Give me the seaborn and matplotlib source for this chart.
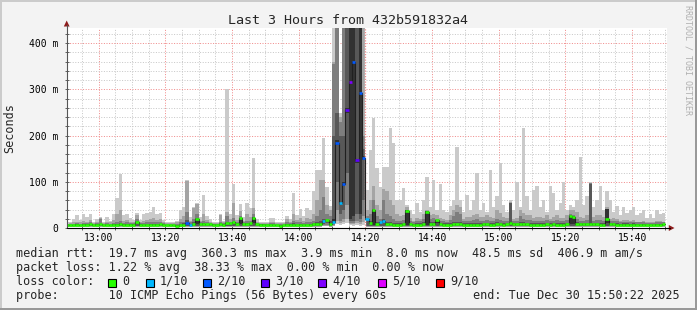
import numpy as np
import pandas as pd
import matplotlib
matplotlib.use("Agg")
import matplotlib.pyplot as plt
import seaborn as sns
from matplotlib.patches import Rectangle, Polygon
from matplotlib.lines import Line2D

# ---------------------------------------------------------------- data
first_step = "12:50"      # start of the first 60 s step
view_start = "12:50:22"
view_end = "15:50:22"


def _a(s):
    return np.array(s.split(), dtype=float)


# sorted ping round-trip times per step (ms): ping1 = fastest ... ping10 = slowest
ping1 = _a("""
3 3 3 3 3 3 3 3 3 3  3 3 3 3 3 3 3 3 3 3  3 3 3 3 3 3 3 3 3 3  3 3 3 3 3 3 3 3 3 3
3 3 3 3 3 3 3 3 3 3  3 3 3 3 3 3 3 3 3 3  3 3 3 3 3 3 3 3 3 3  3 3 3 3 3 3 3 4 4 3
4 8 6 8 10 6 5 6 5 6  3 3 3 3 3 3 3 3 3 3  3 3 3 3 3 3 3 3 3 3  3 3 3 3 3 3 3 3 3 3
3 3 3 3 3 3 3 3 3 3  3 3 3 3 3 3 3 3 3 3  3 3 3 3 3 3 3 3 3 3  3 3 3 3 3 3 3 3 3 3
3 3 3 3 3 3 3 3 3 3  3 3 3 3 3 3 3 3 3 3""")
ping2 = _a("""
3 3 3 3 3 3 3 3 3 3  3 3 3 3 3 3 3 3 3 3  3 3 3 3 3 3 3 3 3 3  3 3 3 3 3 3 3 3 3 3
3 3 3 3 3 3 3 3 3 3  3 3 3 3 3 3 3 3 3 3  3 3 3 3 3 3 3 3 3 3  3 3 3 3 3 3 3 5 5 3
5 15 10 12 20 8 8 10 8 12  3 3 3 3 3 3 3 3 3 3  3 3 3 3 3 3 3 3 3 3  3 3 3 3 3 3 3 3 3 3
3 3 3 3 3 3 3 3 3 3  3 3 3 3 3 3 3 3 3 3  3 3 3 3 3 3 3 3 3 3  3 3 3 3 3 3 3 3 3 3
3 3 3 3 3 3 3 3 3 3  3 3 3 3 3 3 3 3 3 3""")
ping3 = _a("""
4 4 4 4 4 4 4 4 4 4  4 4 4 4 4 4 4 4 4 4  4 4 4 4 4 4 4 4 4 4  4 4 4 4 4 4 4 4 4 4
4 4 4 4 4 4 4 4 4 4  4 4 4 4 4 4 4 4 4 4  4 4 4 4 4 4 4 4 4 4  4 4 4 4 4 4 4 6 7 4
6 40 15 20 50 10 10 15 12 25  4 4 4 4 4 4 4 4 4 4  4 4 4 4 4 4 4 4 4 4  4 4 4 4 4 4 4 4 4 4
4 4 4 4 4 4 4 4 4 4  4 4 4 4 4 4 4 4 4 4  4 4 4 4 4 4 4 4 4 4  4 4 4 4 4 4 4 4 4 4
4 4 4 4 4 4 4 4 4 4  4 4 4 4 4 4 4 4 4 4""")
ping4 = _a("""
4 4 4 4 4 4 4 4 4 4  4 4 4 4 4 4 4 4 4 4  4 4 4 4 4 4 4 4 4 4  4 4 4 4 4 4 4 4 4 4
4 4 4 4 4 4 4 4 4 4  4 4 4 4 4 4 4 4 4 4  4 4 4 4 4 4 4 4 4 4  4 4 4 4 4 4 4 8 10 4
8 100 30 40 120 15 15 30 20 60  4 4 4 4 4 4 4 4 4 4  4 4 4 4 4 4 4 4 4 4  4 4 4 4 4 4 4 4 4 4
4 4 4 4 4 4 4 4 4 4  4 4 4 4 4 4 4 4 4 4  4 4 4 4 4 4 4 4 4 4  4 4 4 4 4 4 4 4 4 4
4 4 4 4 4 4 4 4 4 4  4 4 4 4 4 4 4 4 4 4""")
ping5 = _a("""
5 5 5 6 5 6 6 7 5 6  7 5 5 5 6 6 7 6 6 6  6 12 6 5 5 6 6 6 7 6  5 5 5 4 5 6 9 5 7 8
7 8 7 7 6 5 7 6 9 9  11 8 9 7 8 9 10 7 6 6  5 5 5 5 4 5 6 6 6 5  6 5 5 6 7 8 8 14 16 8
10 180 50 90 250 20 25 140 30 148  18 9 6 8 12 15 8 7 6 6  6 7 6 7 6 6 6 7 7 7  7 10 7 6 6 6 7 7 7 6
6 6 6 6 6 7 7 6 6 7  7 6 7 9 8 7 7 7 7 6  6 6 6 6 7 6 7 6 6 6  7 8 9 8 7 7 7 8 7 7
6 6 10 7 7 6 6 6 6 6  6 6 5 6 5 5 5 6 6 7""")
ping6 = _a("""
7 7 7 8 7 8 8 9 7 8  9 7 7 7 8 8 9 8 8 8  8 14 8 7 7 8 8 8 9 8  7 7 7 6 7 8 11 7 9 20
9 10 9 9 8 7 9 8 11 11  13 10 22 9 10 11 23 9 8 8  7 7 7 7 6 7 8 8 8 7  8 7 7 8 9 10 10 16 18 10
20 190 56 100 260 600 650 150 600 155  20 11 40 10 14 17 10 9 8 8  8 9 38 9 8 8 8 9 36 9  9 18 9 8 8 8 9 9 9 8
8 8 8 8 8 9 9 8 8 9  9 8 9 12 10 9 9 9 9 8  8 8 8 8 9 8 9 8 8 8  9 27 25 10 9 9 9 10 9 9
8 8 41 9 9 8 8 8 8 8  8 8 7 8 7 7 7 8 8 9""")
ping7 = _a("""
7 7 7 8 7 8 8 9 7 8  9 7 8 7 8 9 10 8 8 8  8 15 8 8 8 9 9 8 9 8  7 7 7 7 9 10 18 9 12 22
9 11 9 9 8 8 10 8 14 11  14 10 22 9 11 11 24 9 8 8  8 8 8 7 7 7 9 8 10 9  9 8 9 9 10 12 16 20 20 15
200 250 200 200 500 700 700 500 700 170  20 15 42 12 14 20 14 12 11 10  10 11 38 10 9 10 10 12 36 12
12 18 10 10 10 11 12 14 12 10  10 10 11 11 10 10 11 10 10 12  11 10 10 54 10 10 12 12 11 11
10 10 10 10 11 10 10 11 10 10  11 28 26 12 10 10 11 96 10 11  11 10 41 10 10 10 9 10 10 9
10 9 9 9 8 8 8 9 9 9""")
ping8 = _a("""
8 8 9 10 9 10 10 12 8 10  20 9 10 9 11 14 16 11 12 10  10 20 10 11 12 12 13 12 12 10
9 8 9 9 12 14 35 12 20 30  12 16 12 11 9 9 14 10 25 14  22 13 25 12 16 15 30 11 9 9
9 10 10 9 8 9 12 10 15 12  13 11 13 12 16 25 40 67 30 25  355 600 230 500 700 800 800 700 800 200
25 30 60 25 20 60 30 25 20 15  16 18 40 16 12 16 15 20 37 20  22 20 16 15 14 18 25 35 30 15
16 16 18 20 16 16 18 16 16 20  18 16 16 55 15 16 25 20 18 18  16 16 16 16 18 15 16 18 16 16
18 30 28 20 16 16 18 97 16 18  18 16 42 15 16 15 12 14 14 13  14 12 12 13 11 11 11 13 13 12""")
ping9 = _a("""
9 10 12 14 12 16 14 18 10 14  21 11 14 12 18 30 40 16 18 14  13 28 14 16 18 20 22 18 20 13
11 10 11 12 20 25 101 16 44 52  16 30 18 14 11 11 28 12 35 20  54 18 37 16 30 24 44 14 11 10
10 14 14 11 10 11 20 14 30 18  22 16 22 20 30 60 104 104 50 40  360 650 240 700 800 850 850 800 850 450
40 60 90 50 40 85 80 60 50 30  25 28 45 22 16 22 20 30 40 28  30 28 22 20 18 28 40 50 45 20
24 24 28 30 24 24 28 24 22 40  32 24 22 56 20 22 40 32 28 28  22 24 24 22 28 20 24 28 22 22
28 40 40 35 24 22 28 98 24 28  28 24 45 20 22 20 16 18 18 16  18 14 14 16 13 13 13 16 16 14""")
ping10 = _a("""
12 14 20 28 18 30 24 31 12 20  24 14 24 16 30 65 117 28 30 22  17 32 18 30 32 35 46 31 33 17
14 12 14 16 38 45 103 23 46 54  23 71 27 19 14 14 30 15 302 30  95 28 52 23 54 44 151 19 14 12
12 21 21 14 12 14 26 20 75 29  41 25 43 40 80 125 125 195 89 48  600 700 250 800 900 900 900 900 900 900
82 168 238 130 88 132 132 216 184 60  60 86 50 40 30 54 35 60 110 45  104 40 95 40 35 47 60 175 60 35
71 40 60 120 40 55 35 125 45 70  140 50 35 60 40 100 45 216 70 40  82 90 45 60 35 90 75 40 55 100
40 50 45 60 153 50 70 100 45 60  90 40 80 60 35 47 28 45 32 40  45 28 32 39 22 30 22 39 30 32""")
median_rtt = _a("""
6 6 6 7 6 7 7 8 6 7  8 6 6 6 7 7 8 7 7 7  7 13 7 6 6 7 7 7 8 7  6 6 6 5 6 7 10 6 8 19
8 9 8 8 7 6 8 7 10 10  12 9 21 8 9 10 22 8 7 7  6 6 6 6 5 6 7 7 7 6  7 6 6 7 8 9 9 15 17 9
13 184 54 95 255 316 359 147 292 151  19 10 39 9 13 16 9 8 7 7  7 8 37 8 7 7 7 8 35 8
8 17 8 7 7 7 8 8 8 7  7 7 7 7 7 8 8 7 7 8  8 7 8 10 9 8 8 8 8 7  7 7 7 7 8 7 8 7 7 7
8 26 24 9 8 8 8 9 8 8  7 7 19 8 8 7 7 7 7 7  7 7 6 7 6 6 6 7 7 8""")
loss_count = _a("""
0 0 0 0 0 0 0 0 0 0  0 0 0 0 0 0 0 0 0 0  0 0 0 0 0 0 0 0 0 0  0 0 0 0 0 0 2 1 0 0
0 0 0 0 0 0 0 0 0 0  0 0 0 0 0 0 0 0 0 0  0 0 0 0 0 0 0 0 0 0  0 0 0 0 0 0 0 1 0 0
1 2 1 2 3 4 2 3 2 2  1 0 0 0 1 1 0 0 0 0  0 0 0 0 0 0 0 0 0 0  0 0 0 0 0 0 0 0 0 0
0 0 0 0 0 0 0 0 0 0  0 0 0 0 0 0 0 0 0 0  0 0 0 0 0 0 0 0 0 0  0 0 0 0 0 0 0 0 0 0
0 0 0 0 0 0 0 0 0 0  0 0 0 0 0 0 0 0 0 0""").astype(int)

loss_levels = [0, 1, 2, 3, 4, 5, 9]
loss_labels = ["0", "1/10", "2/10", "3/10", "4/10", "5/10", "9/10"]
loss_colors = ["#26ff00", "#00b8ff", "#0059ff", "#5e00ff", "#7e00ff", "#dd00ff", "#ff0000"]
smoke_shades = ["#cacaca", "#a4a4a4", "#7e7e7e", "#585858", "#323232"]

time_labels = ["13:00", "13:20", "13:40", "14:00", "14:20", "14:40", "15:00", "15:20", "15:40"]
y_tick_values = [0, 100, 200, 300, 400]
y_tick_labels = ["0", "100 m", "200 m", "300 m", "400 m"]
data_gaps = ["14:20"]

title = "Last 3 Hours from 432b591832a4"
rtt_stats = ["19.7 ms avg", "360.3 ms max", "3.9 ms min", "8.0 ms now", "48.5 ms sd", "406.9 m am/s"]
loss_stats = ["1.22 % avg", "38.33 % max", "0.00 % min", "0.00 % now"]
probe_text = "10 ICMP Echo Pings (56 Bytes) every 60s"
end_text = "end: Tue Dec 30 15:50:22 2025"

pings = [ping1, ping2, ping3, ping4, ping5, ping6, ping7, ping8, ping9, ping10]
for p in pings + [median_rtt, loss_count]:
    assert len(p) == 180, len(p)

# ---------------------------------------------------------------- helpers
W, H = 697, 310


def to_min(s):
    parts = [int(v) for v in s.split(":")]
    sec = parts[2] if len(parts) > 2 else 0
    return (parts[0] - 13) * 60 + parts[1] + sec / 60.0


def P(x, y):
    return x / W, 1 - y / H


sns.set_theme(style="white")
plt.rcParams["font.family"] = ["DejaVu Sans Mono", "DejaVu Sans"]

BG = "#f3f3f3"
fig = plt.figure(figsize=(W / 100, H / 100), dpi=100, facecolor=BG)

ax_l, ax_b = P(66.7, 228)
ax = fig.add_axes([ax_l, ax_b, 600 / W, 200 / H])
ax.set_facecolor("white")

t0 = to_min(first_step)
n = len(median_rtt)
starts = t0 + np.arange(n)
edges = t0 + np.arange(n + 1)


def ext(v):
    return np.append(v, v[-1])


# grid
maj_col = "#f08c8c"
min_col = "#c8c8c8"
ax.set_xticks([to_min(s) for s in time_labels])
ax.set_xticks(np.arange(-5, 171, 5), minor=True)
ax.set_yticks(y_tick_values)
ax.set_yticks(np.arange(20, 433, 20), minor=True)
ax.grid(which="major", color=maj_col, lw=0.72, ls=(0, (1, 1.6)))
ax.grid(which="minor", color=min_col, lw=0.72, ls=(0, (1, 1.6)))
ax.set_axisbelow(True)

# smoke bands
for j in range(5):
    ax.fill_between(edges, ext(pings[j]), ext(pings[9 - j]), step="post",
                    color=smoke_shades[j], lw=0, zorder=2)

# data gaps show the canvas and grid underneath
for g in data_gaps:
    gx = to_min(g)
    ax.axvline(gx, color="white", lw=0.9, zorder=3)
    ax.axvline(gx, color=maj_col, lw=0.9, ls=(0, (1, 1.2)), zorder=3.1)

# median line
sns.lineplot(x=edges, y=ext(median_rtt), drawstyle="steps-post", color="#202020",
             linewidth=0.8, ax=ax, sort=False, estimator=None, legend=False, zorder=4)
step_cols = []
for l in loss_count:
    idx = max(i for i, lv in enumerate(loss_levels) if lv <= l)
    step_cols.append(loss_colors[idx])
ax.hlines(median_rtt, starts, starts + 1, colors=step_cols, lw=1.9, zorder=5)

ax.set_xlim(to_min(view_start), to_min(view_end))
ax.set_ylim(0, 433)
ax.set_xticklabels(time_labels)
ax.set_yticklabels(y_tick_labels)
ax.set_xlabel("")
ax.set_ylabel("")
for s in ax.spines.values():
    s.set_visible(False)
ax.tick_params(which="both", direction="inout", length=3.2, width=0.7, color="#606060",
               labelsize=7, labelcolor="black", bottom=True, left=True)
ax.tick_params(axis="x", pad=2.2)
ax.tick_params(axis="y", pad=4.6)

# axis lines and arrows
fig.add_artist(Line2D(*zip(P(66.7, 228), P(66.7, 25)), color="#555555", lw=0.8))
fig.add_artist(Line2D(*zip(P(66.7, 228), P(670, 228)), color="black", lw=0.8))
arrow_col = "#8e1c1c"
fig.add_artist(Polygon([P(63.8, 26.5), P(69.6, 26.5), P(66.7, 20.5)], closed=True,
                       transform=fig.transFigure, color=arrow_col, lw=0))
fig.add_artist(Polygon([P(668.8, 225), P(668.8, 231), P(674.5, 228)], closed=True,
                       transform=fig.transFigure, color=arrow_col, lw=0))

# frame shading
fig.add_artist(Rectangle((0, 1 - 2 / H), 1, 2 / H, transform=fig.transFigure, color="#cbcbcb", lw=0))
fig.add_artist(Rectangle((0, 0), 2 / W, 1, transform=fig.transFigure, color="#cbcbcb", lw=0))
fig.add_artist(Rectangle((0, 0), 1, 2 / H, transform=fig.transFigure, color="#999999", lw=0))
fig.add_artist(Rectangle((1 - 2 / W, 0), 2 / W, 1, transform=fig.transFigure, color="#999999", lw=0))


def T(x, y, s, **kw):
    kw.setdefault("fontsize", 8.5)
    kw.setdefault("va", "baseline")
    kw.setdefault("ha", "left")
    fig.text(*P(x, y), s, **kw)


T(348.5, 24, title, fontsize=9.6, ha="center")
T(10, 128, "Seconds", rotation=90, va="center", ha="center")
T(688, 5, "RRDTOOL / TOBI OETIKER", rotation=270, va="top", ha="center",
  fontsize=6, color="#b0b0b0")

T(16, 257, "median rtt:  " + "  ".join(rtt_stats))
T(16, 271, "packet loss: " + "  ".join(loss_stats))
T(16, 285, "loss color:")
box_x = [108.3, 145.7, 203, 261, 318.3, 377.7, 436]
for bx, lab, col in zip(box_x, loss_labels, loss_colors):
    fig.add_artist(Rectangle(P(bx, 286.5), 8 / W, 8 / H, transform=fig.transFigure,
                             facecolor=col, edgecolor="black", lw=0.8))
    T(bx + 14.4, 285, lab)
T(16, 299, "probe:       " + probe_text)
T(680, 299, end_text, ha="right")

fig.savefig("out.png", dpi=100, facecolor=BG)
